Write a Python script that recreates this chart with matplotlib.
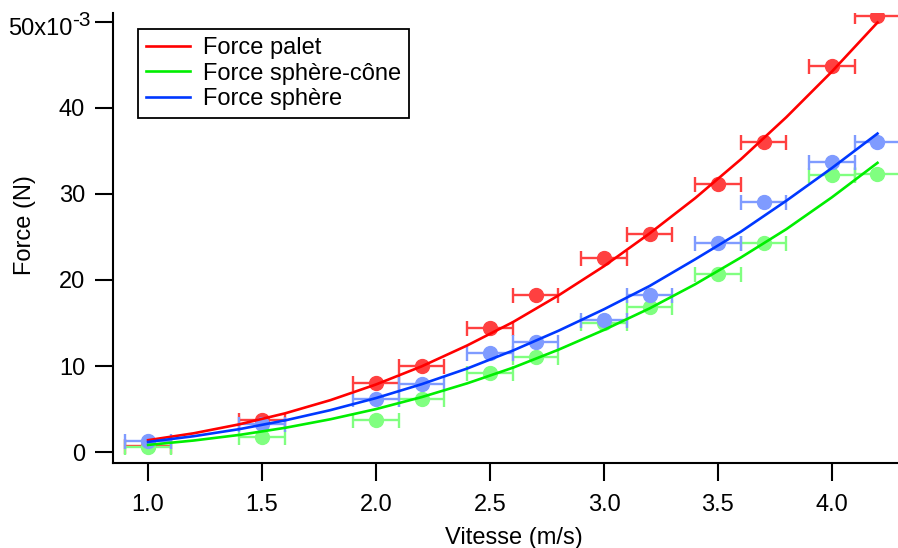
"""Force de traînée en fonction de la vitesse pour trois formes d'objets."""

import matplotlib

matplotlib.use("Agg")
import matplotlib.pyplot as plt

plt.rcParams.update(
    {
        "font.family": ["Liberation Sans", "DejaVu Sans"],
        "axes.unicode_minus": False,
    }
)

# mesures (force en 10^-3 N)
vitesse = [1.0, 1.5, 2.0, 2.2, 2.5, 2.7, 3.0, 3.2, 3.5, 3.7, 4.0, 4.2]
err_vitesse = 0.1
force_palet = [0.7, 3.8, 8.0, 10.0, 14.4, 18.3, 22.6, 25.3, 31.1, 36.0, 44.8, 50.6]
force_sphere_cone = [0.6, 1.8, 3.8, 6.2, 9.2, 11.0, 15.0, 16.9, 20.7, 24.3, 32.2, 32.3]
force_sphere = [1.3, 3.3, 6.2, 7.9, 11.5, 12.8, 15.4, 18.3, 24.3, 29.1, 33.7, 36.0]

# courbes d'ajustement
v_fit = [1.0, 1.2, 1.4, 1.6, 1.8, 2.0, 2.2, 2.4, 2.6, 2.8, 3.0, 3.2, 3.4, 3.6, 3.8, 4.0, 4.2]
fit_palet = [1.40, 2.20, 3.24, 4.51, 6.05, 7.87, 9.97, 12.4, 15.1, 18.2, 21.6, 25.4,
             29.5, 34.0, 38.9, 44.2, 49.9]
fit_sphere_cone = [0.85, 1.36, 2.01, 2.83, 3.83, 5.01, 6.40, 8.00, 9.81, 11.9, 14.2, 16.7,
                   19.5, 22.6, 25.9, 29.6, 33.6]
fit_sphere = [1.20, 1.86, 2.68, 3.69, 4.89, 6.29, 7.90, 9.72, 11.8, 14.1, 16.6, 19.3,
              22.4, 25.6, 29.2, 33.0, 37.0]

x_ticks = [1.0, 1.5, 2.0, 2.5, 3.0, 3.5, 4.0]
y_ticks = [0, 10, 20, 30, 40, 50]
y_tick_labels = ["0", "10", "20", "30", "40", ""]  # 50x10^-3 drawn by hand below

series = [
    ("Force palet", force_palet, fit_palet, "#ff4040", "#ff0000"),
    ("Force sphère-cône", force_sphere_cone, fit_sphere_cone, "#80ff80", "#00ee00"),
    ("Force sphère", force_sphere, fit_sphere, "#7f9bff", "#0038ff"),
]

fig = plt.figure(figsize=(8.98, 5.48), dpi=100)
ax = fig.add_axes([113 / 898, 85 / 548, 785 / 898, 450 / 548])

for label, pts, fit, c_pts, c_fit in series:
    ax.errorbar(
        vitesse, pts, xerr=err_vitesse, fmt="o", color=c_pts, ecolor=c_pts,
        markersize=10, elinewidth=1.7, capsize=5.4, capthick=1.7, zorder=2,
    )
for label, pts, fit, c_pts, c_fit in series:
    ax.plot(v_fit, fit, color=c_fit, lw=1.9, label=label, zorder=3)

ax.set_xlim(0.846, 4.29)
ax.set_ylim(-1.25, 51.0)
ax.set_xticks(x_ticks)
ax.set_xticklabels([f"{t:.1f}" for t in x_ticks])
ax.set_yticks(y_ticks)
ax.set_yticklabels(y_tick_labels)

for side in ("top", "right"):
    ax.spines[side].set_visible(False)
for side in ("left", "bottom"):
    ax.spines[side].set_linewidth(1.5)
ax.tick_params(direction="out", length=13, width=1.5, labelsize=17)
ax.tick_params(axis="x", pad=9)
ax.tick_params(axis="y", pad=7)

# top tick label, Igor style
fig.text(72 / 898, 1 - 29 / 548, "50x10", ha="right", va="center", fontsize=17)
fig.text(72 / 898, 1 - 20 / 548, "-3", ha="left", va="center", fontsize=15)

fig.text(25 / 898, 1 - 225 / 548, "Force (N)", rotation=90, ha="center", va="center", fontsize=17)
fig.text(514 / 898, 1 - 538 / 548, "Vitesse (m/s)", ha="center", va="center", fontsize=17)

leg = ax.legend(
    loc="upper left", bbox_to_anchor=(0.032, 0.965), borderaxespad=0,
    fontsize=17, handlelength=1.85, handletextpad=0.55, labelspacing=0.15,
    borderpad=0.35, fancybox=False, framealpha=1, edgecolor="black",
)
leg.get_frame().set_linewidth(1.3)

fig.savefig("out.png", dpi=100, facecolor="white")
